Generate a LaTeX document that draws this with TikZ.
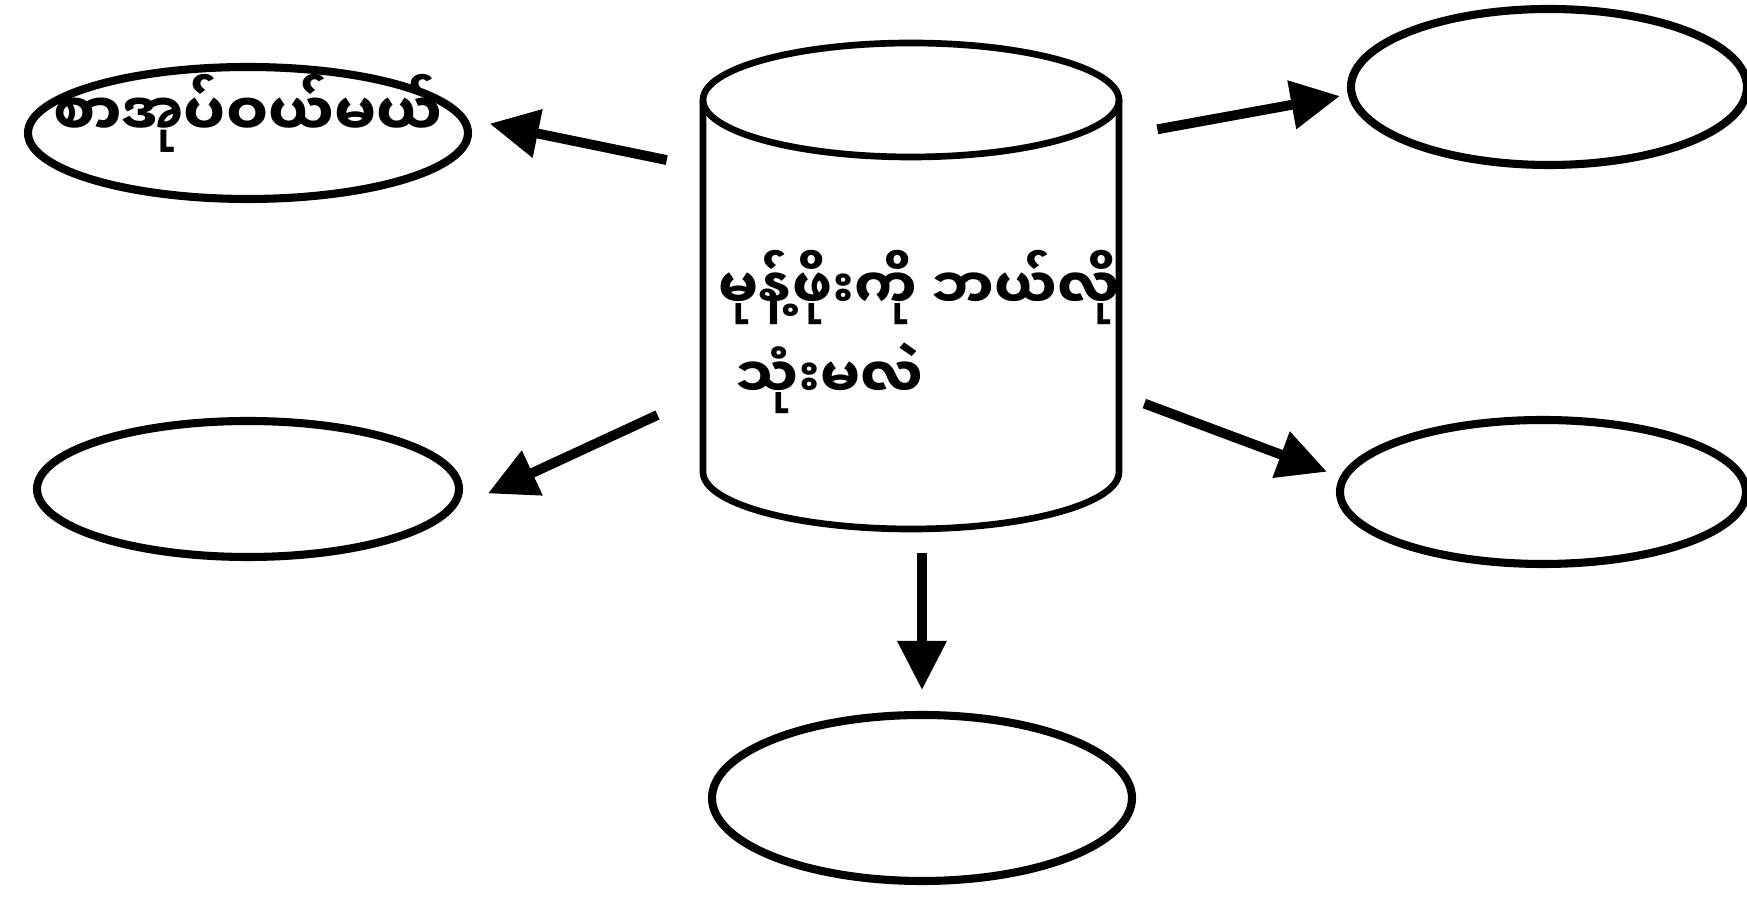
\documentclass[tikz,border=0pt]{standalone}
\usepackage{fontspec}
\newfontfamily\mmfont[Script=Myanmar]{Noto Sans Myanmar UI}
\usetikzlibrary{shapes.geometric,arrows.meta}
\tikzset{
 bubble/.style={draw,ellipse,line width=2.3pt,inner sep=0pt,outer sep=0pt},
 cylbox/.style={rectangle,inner sep=0pt,outer sep=0pt,minimum width=41.8mm,minimum height=49mm},
 mmtext/.style={inner sep=0pt,font=\mmfont\bfseries\fontsize{16}{25.6}\selectfont},
 arr/.style={line width=2.8pt,-{Triangle[length=4.9mm,width=4.7mm]}}
}
\begin{document}
\begin{tikzpicture}[x=0.1mm,y=0.1mm]
 \useasboundingbox (0,0) rectangle (1747,903);
 \node[bubble,minimum width=44mm,minimum height=13.2mm,label={[mmtext,font=\mmfont\bfseries\fontsize{16.8}{20}\selectfont,yshift=2mm]center:စာအုပ်ဝယ်မယ်}] (buy) at (248,770) {};
 \node[bubble,minimum width=39.6mm,minimum height=15.6mm] (tr) at (1549,816) {};
 \node[bubble,minimum width=42.2mm,minimum height=13.6mm] (ml) at (248,414) {};
 \node[bubble,minimum width=40.6mm,minimum height=14.4mm] (mr) at (1543,411) {};
 \node[bubble,minimum width=42mm,minimum height=16.6mm] (low) at (922,105) {};
 \node[cylbox] (cyl) at (911,615) {};
 \draw[line width=1.9pt] (911,803) ellipse [x radius=208,y radius=57];
 \draw[line width=1.9pt] (703,803) -- (703,431) arc [start angle=180,end angle=360,x radius=208,y radius=57] -- (1119,803);
 \node[mmtext,align=left,anchor=west] (ask) at (718,571) {မုန့်ဖိုးကို ဘယ်လို\\\hspace*{1.7mm}သုံးမလဲ};
 \draw[arr,shorten <=3.6mm,shorten >=2.8mm] (cyl.150) -- (buy.4);
 \draw[arr,shorten <=3.8mm,shorten >=1.2mm] (cyl.36) -- (tr.182);
 \draw[arr,shorten <=4.9mm,shorten >=4.7mm] (cyl.207) -- (ml.-7);
 \draw[arr,shorten <=2.6mm,shorten >=1.8mm] (cyl.-27) -- (mr.176);
 \draw[arr,shorten <=2mm,shorten >=2.5mm] (cyl.south -| low) -- (low.north);
\end{tikzpicture}
\end{document}
